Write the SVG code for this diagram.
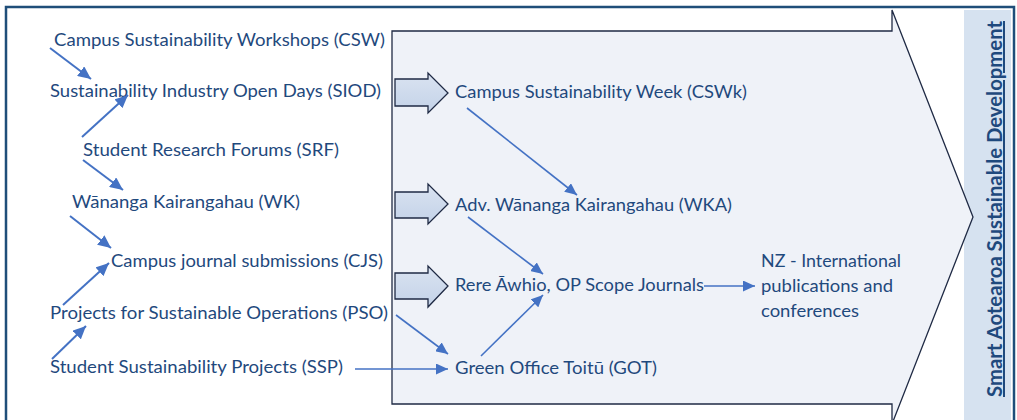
<svg xmlns="http://www.w3.org/2000/svg" width="1017" height="420" viewBox="0 0 1017 420">
  <defs>
    <marker id="head" markerUnits="userSpaceOnUse" markerWidth="14" markerHeight="12" refX="13" refY="6" orient="auto">
      <path d="M0,0 L13,6 L0,12 z" fill="#4472c4"/>
    </marker>
    <marker id="headSm" markerUnits="userSpaceOnUse" markerWidth="13" markerHeight="11" refX="12" refY="5.5" orient="auto">
      <path d="M0,0 L12,5.5 L0,11 z" fill="#4472c4"/>
    </marker>
    <linearGradient id="blockFill" x1="0" y1="0" x2="0" y2="1">
      <stop offset="0" stop-color="#dae3f1"/>
      <stop offset="1" stop-color="#c3d2e8"/>
    </linearGradient>
  </defs>
  <style>
    .lbl { font-family: Lato, "Open Sans", "Liberation Sans", sans-serif; font-size: 17.5px; fill: #1f497d; }
    .title { font-family: Lato, "Open Sans", "Liberation Sans", sans-serif; font-size: 20px; font-weight: bold; fill: #1f497d; text-decoration: underline; }
    .block { fill: url(#blockFill); stroke: #1f2a44; stroke-width: 1.3; stroke-linejoin: miter; }
    .conn { fill: none; stroke: #4472c4; stroke-width: 1.6; }
    .conn.thick { stroke-width: 2; }
  </style>

  <!-- page background and outer frame -->
  <rect x="0" y="0" width="1017" height="420" fill="#ffffff"/>
  <path d="M6,424 L6,7 L1014,7 L1014,424" fill="none" stroke="#1f4e79" stroke-width="2.5"/>

  <!-- side panel with the overall goal -->
  <g id="goal">
    <rect x="964" y="10" width="47" height="412" fill="#d6e2f0"/>
    <text class="title" transform="translate(1002,397) rotate(-90)" textLength="376" lengthAdjust="spacingAndGlyphs">Smart Aotearoa Sustainable Development</text>
  </g>

  <!-- large pathway arrow -->
  <g id="pathway">
    <path d="M392,31 L892,31 L892,10 L973,217 L892,424 L892,404 L392,404 Z" fill="#eff2f8" stroke="#1f2a44" stroke-width="1.3"/>
  </g>

  <!-- block arrows feeding the pathway -->
  <g id="feed-1"><path class="block" d="M395,79 L428,79 L428,73 L448,93 L428,113 L428,106 L395,106 Z"/></g>
  <g id="feed-2"><path class="block" d="M395,192 L428,192 L428,184 L448,204 L428,224 L428,218 L395,218 Z"/></g>
  <g id="feed-3"><path class="block" d="M395,273 L428,273 L428,266 L448,286 L428,307 L428,299 L395,299 Z"/></g>

  <!-- left column: campus activities -->
  <g id="csw"><text class="lbl" x="54" y="46" textLength="331" lengthAdjust="spacingAndGlyphs">Campus Sustainability Workshops (CSW)</text></g>
  <g id="siod"><text class="lbl" x="50" y="97" textLength="331" lengthAdjust="spacingAndGlyphs">Sustainability Industry Open Days (SIOD)</text></g>
  <g id="srf"><text class="lbl" x="83" y="156" textLength="256" lengthAdjust="spacingAndGlyphs">Student Research Forums (SRF)</text></g>
  <g id="wk"><text class="lbl" x="72" y="208" textLength="228" lengthAdjust="spacingAndGlyphs">Wānanga Kairangahau (WK)</text></g>
  <g id="cjs"><text class="lbl" x="111" y="267" textLength="272" lengthAdjust="spacingAndGlyphs">Campus journal submissions (CJS)</text></g>
  <g id="pso"><text class="lbl" x="50" y="319" textLength="338" lengthAdjust="spacingAndGlyphs">Projects for Sustainable Operations (PSO)</text></g>
  <g id="ssp"><text class="lbl" x="50" y="373" textLength="293" lengthAdjust="spacingAndGlyphs">Student Sustainability Projects (SSP)</text></g>

  <!-- middle column: programmes -->
  <g id="cswk"><text class="lbl" x="455" y="98" textLength="292" lengthAdjust="spacingAndGlyphs">Campus Sustainability Week (CSWk)</text></g>
  <g id="wka"><text class="lbl" x="455" y="211" textLength="277" lengthAdjust="spacingAndGlyphs">Adv. Wānanga Kairangahau (WKA)</text></g>
  <g id="rere"><text class="lbl" x="455" y="291" textLength="249" lengthAdjust="spacingAndGlyphs">Rere Āwhio, OP Scope Journals</text></g>
  <g id="got"><text class="lbl" x="455" y="374" textLength="202" lengthAdjust="spacingAndGlyphs">Green Office Toitū (GOT)</text></g>

  <!-- outcome -->
  <g id="nz">
    <text class="lbl" x="761" y="267" textLength="140" lengthAdjust="spacingAndGlyphs">NZ - International</text>
    <text class="lbl" x="761" y="292" textLength="132" lengthAdjust="spacingAndGlyphs">publications and</text>
    <text class="lbl" x="761" y="317" textLength="98" lengthAdjust="spacingAndGlyphs">conferences</text>
  </g>

  <!-- connectors -->
  <g id="connectors">
    <line class="conn thick" x1="50" y1="48" x2="91" y2="79" marker-end="url(#head)"/>
    <line class="conn thick" x1="82" y1="137" x2="128" y2="95" marker-end="url(#head)"/>
    <line class="conn thick" x1="83" y1="160" x2="123" y2="190" marker-end="url(#head)"/>
    <line class="conn thick" x1="70" y1="216" x2="111" y2="248" marker-end="url(#head)"/>
    <line class="conn thick" x1="63" y1="305" x2="109" y2="263" marker-end="url(#head)"/>
    <line class="conn thick" x1="52" y1="359" x2="86" y2="326" marker-end="url(#head)"/>
    <line class="conn" x1="355" y1="369" x2="448" y2="369" marker-end="url(#headSm)"/>
    <line class="conn" x1="396" y1="315" x2="448" y2="354" marker-end="url(#headSm)"/>
    <line class="conn" x1="467" y1="108" x2="577" y2="195" marker-end="url(#headSm)"/>
    <line class="conn" x1="468" y1="217" x2="543" y2="274" marker-end="url(#headSm)"/>
    <line class="conn" x1="481" y1="356" x2="543" y2="295" marker-end="url(#headSm)"/>
    <line class="conn" x1="704" y1="286" x2="755" y2="286" marker-end="url(#headSm)"/>
  </g>
</svg>
